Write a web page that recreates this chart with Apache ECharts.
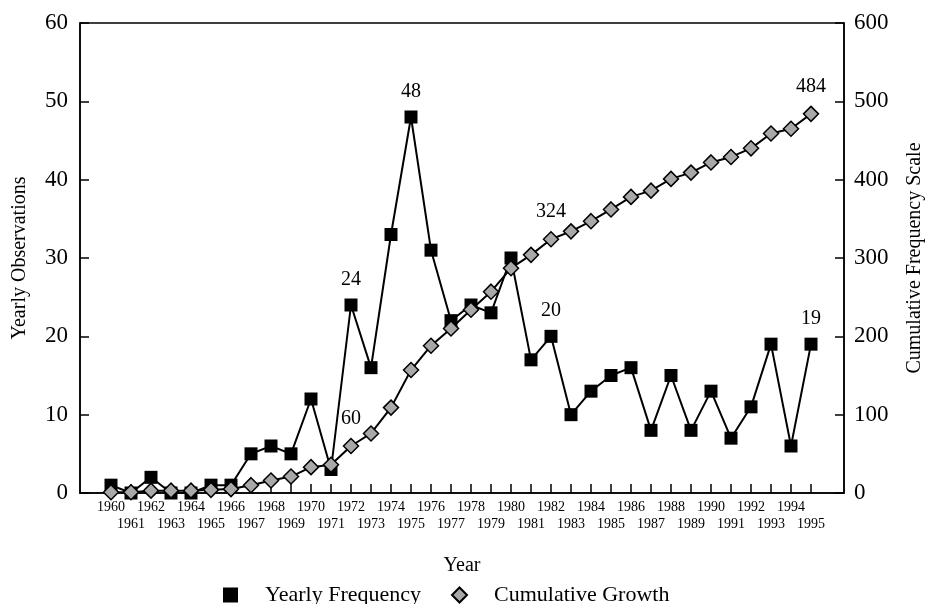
<!DOCTYPE html>
<html>
<head>
<meta charset="utf-8">
<script src="https://cdn.jsdelivr.net/npm/echarts@6/dist/echarts.min.js"></script>
<style>
  html, body { margin: 0; padding: 0; background: #fff; }
  #chart { width: 930px; height: 604px; }
</style>
</head>
<body>
<div id="chart"></div>
<script>
  const years = [1960, 1961, 1962, 1963, 1964, 1965, 1966, 1967, 1968, 1969,
    1970, 1971, 1972, 1973, 1974, 1975, 1976, 1977, 1978, 1979,
    1980, 1981, 1982, 1983, 1984, 1985, 1986, 1987, 1988, 1989,
    1990, 1991, 1992, 1993, 1994, 1995];
  const yearlyFrequency = [1, 0, 2, 0, 0, 1, 1, 5, 6, 5,
    12, 3, 24, 16, 33, 48, 31, 22, 24, 23,
    30, 17, 20, 10, 13, 15, 16, 8, 15, 8,
    13, 7, 11, 19, 6, 19];
  const cumulativeGrowth = [1, 1, 3, 3, 3, 4, 5, 10, 16, 21,
    33, 36, 60, 76, 109, 157, 188, 210, 234, 257,
    287, 304, 324, 334, 347, 362, 378, 386, 401, 409,
    422, 429, 440, 459, 465, 484];
  // points that carry a value label in the original
  const yearlyLabelYears = [1972, 1975, 1982, 1995];
  const cumulativeLabelYears = [1972, 1982, 1995];

  // year labels sit on two staggered rows
  const upperRowYears = years.filter((y, i) => i % 2 === 0);
  const lowerRowYears = years.filter((y, i) => i % 2 === 1);

  const font = 'Liberation Serif';
  const chart = echarts.init(document.getElementById('chart'));

  function buildData(values, labelYears) {
    return years.map((y, i) => ({
      value: [y, values[i]],
      label: { show: labelYears.indexOf(y) >= 0 }
    }));
  }

  const valueLabel = {
    position: 'top',
    distance: 9,
    color: '#000',
    fontFamily: font,
    fontSize: 20,
    formatter: p => p.value[1]
  };

  const yearLabel = {
    showMinLabel: true,
    showMaxLabel: true,
    hideOverlap: false,
    color: '#000',
    fontFamily: font,
    fontSize: 14,
    verticalAlign: 'top',
    formatter: v => String(v)
  };

  const option = {
    animation: false,
    backgroundColor: '#fff',
    grid: {
      left: 80, right: 86, top: 23, bottom: 111,
      outerBoundsMode: 'none',
      containLabel: false,
      show: true, borderColor: '#000', borderWidth: 1.5
    },
    legend: {
      top: 579,
      left: 218,
      itemWidth: 15,
      itemHeight: 15,
      itemGap: 30,
      textStyle: { color: '#000', fontFamily: font, fontSize: 22, padding: [0, 0, 0, 22] },
      data: [
        { name: 'Yearly Frequency', icon: 'rect' },
        { name: 'Cumulative Growth', icon: 'diamond' }
      ]
    },
    xAxis: [
      {
        type: 'value',
        min: 1958.45,
        max: 1996.65,
        name: 'Year',
        nameLocation: 'middle',
        nameGap: 63,
        nameTextStyle: { color: '#000', fontFamily: font, fontSize: 20 },
        splitLine: { show: false },
        axisLine: { lineStyle: { color: '#000', width: 1.5 } },
        axisTick: {
          inside: true, length: 9, customValues: years,
          lineStyle: { color: '#000', width: 1.5 }
        },
        axisLabel: Object.assign({ customValues: upperRowYears, margin: 7 }, yearLabel)
      },
      {
        type: 'value',
        position: 'bottom',
        min: 1958.45,
        max: 1996.65,
        splitLine: { show: false },
        axisLine: { show: false },
        axisTick: { show: false },
        axisLabel: Object.assign({ customValues: lowerRowYears, margin: 24 }, yearLabel)
      }
    ],
    yAxis: [
      {
        type: 'value',
        min: 0, max: 60, interval: 10,
        name: 'Yearly Observations',
        nameLocation: 'middle',
        nameGap: 50,
        nameTextStyle: { color: '#000', fontFamily: font, fontSize: 20 },
        splitLine: { show: false },
        axisLine: { show: true, lineStyle: { color: '#000', width: 1.5 } },
        axisTick: { inside: true, length: 9, lineStyle: { color: '#000', width: 1.5 } },
        axisLabel: { color: '#000', fontFamily: font, fontSize: 23, margin: 12 }
      },
      {
        type: 'value',
        min: 0, max: 600, interval: 100,
        name: 'Cumulative Frequency Scale',
        nameLocation: 'middle',
        nameGap: 61,
        nameTextStyle: { color: '#000', fontFamily: font, fontSize: 20 },
        splitLine: { show: false },
        axisLine: { show: true, lineStyle: { color: '#000', width: 1.5 } },
        axisTick: { inside: true, length: 9, lineStyle: { color: '#000', width: 1.5 } },
        axisLabel: { color: '#000', fontFamily: font, fontSize: 23, margin: 10 }
      }
    ],
    series: [
      {
        name: 'Yearly Frequency',
        type: 'line',
        xAxisIndex: 0,
        yAxisIndex: 0,
        symbol: 'rect',
        symbolSize: 13,
        lineStyle: { color: '#000', width: 2 },
        itemStyle: { color: '#000' },
        label: valueLabel,
        data: buildData(yearlyFrequency, yearlyLabelYears)
      },
      {
        name: 'Cumulative Growth',
        type: 'line',
        xAxisIndex: 0,
        yAxisIndex: 1,
        symbol: 'diamond',
        symbolSize: 15,
        lineStyle: { color: '#000', width: 2 },
        itemStyle: { color: '#a8a8a8', borderColor: '#000', borderWidth: 1.5 },
        label: valueLabel,
        data: buildData(cumulativeGrowth, cumulativeLabelYears)
      }
    ]
  };

  chart.setOption(option);
</script>
</body>
</html>
